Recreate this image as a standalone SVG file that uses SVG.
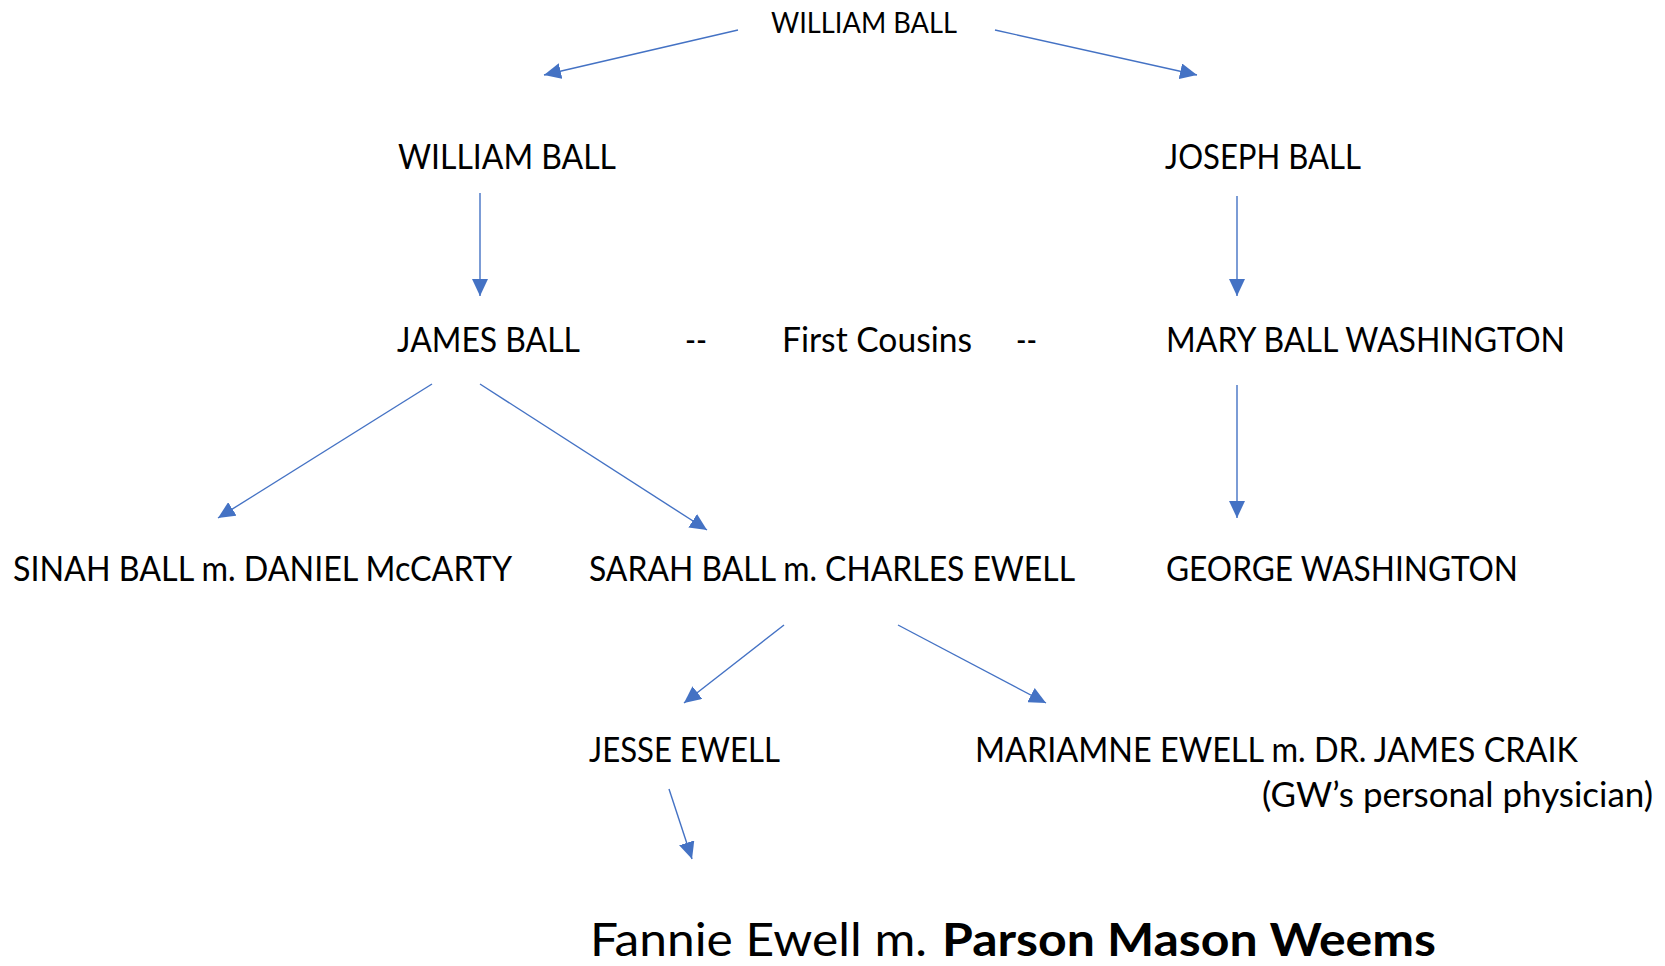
<svg xmlns="http://www.w3.org/2000/svg" width="1665" height="966" viewBox="0 0 1665 966">
<style>
text{font-family:Lato,"Open Sans","Liberation Sans",sans-serif;fill:#000;}
.t{font-size:35px;}
.s{font-size:29px;}
.b{font-size:46px;}
.bold{font-weight:bold;}
.c line{stroke:#4472C4;stroke-width:1.4;marker-end:url(#ah);}
</style>
<defs>
<marker id="ah" markerUnits="userSpaceOnUse" markerWidth="18" markerHeight="16" viewBox="0 0 18 16" refX="17" refY="8" orient="auto">
<path d="M0,0 L17,8 L0,16 z" fill="#4472C4"/>
</marker>
</defs>
<rect width="1665" height="966" fill="#fff"/>
<g id="connectors" class="c">
<line x1="738" y1="30" x2="544" y2="75"/>
<line x1="995" y1="30" x2="1197" y2="75"/>
<line x1="480" y1="193" x2="480" y2="296"/>
<line x1="1237" y1="196" x2="1237" y2="296"/>
<line x1="432" y1="384" x2="218" y2="518"/>
<line x1="480" y1="384" x2="707" y2="530"/>
<line x1="1237" y1="385" x2="1237" y2="518"/>
<line x1="784" y1="625" x2="684" y2="703"/>
<line x1="898" y1="625" x2="1046" y2="703"/>
<line x1="669" y1="789" x2="692" y2="859"/>
</g>
<g id="n-william-top"><text class="s" x="771" y="33" textLength="186" lengthAdjust="spacingAndGlyphs">WILLIAM BALL</text></g>
<g id="n-william"><text class="t" x="398" y="169" textLength="218" lengthAdjust="spacingAndGlyphs">WILLIAM BALL</text></g>
<g id="n-joseph"><text class="t" x="1165" y="169" textLength="196" lengthAdjust="spacingAndGlyphs">JOSEPH BALL</text></g>
<g id="n-james"><text class="t" x="397" y="352" textLength="183" lengthAdjust="spacingAndGlyphs">JAMES BALL</text></g>
<g id="n-cousins">
<text class="t" x="685" y="352" textLength="22" lengthAdjust="spacingAndGlyphs">--</text>
<text class="t" x="782" y="352" textLength="190" lengthAdjust="spacingAndGlyphs">First Cousins</text>
<text class="t" x="1016" y="352" textLength="21" lengthAdjust="spacingAndGlyphs">--</text>
</g>
<g id="n-mary"><text class="t" x="1166" y="352" textLength="399" lengthAdjust="spacingAndGlyphs">MARY BALL WASHINGTON</text></g>
<g id="n-sinah"><text class="t" x="13" y="581" textLength="499" lengthAdjust="spacingAndGlyphs">SINAH BALL m. DANIEL McCARTY</text></g>
<g id="n-sarah"><text class="t" x="589" y="581" textLength="486" lengthAdjust="spacingAndGlyphs">SARAH BALL m. CHARLES EWELL</text></g>
<g id="n-george"><text class="t" x="1166" y="581" textLength="352" lengthAdjust="spacingAndGlyphs">GEORGE WASHINGTON</text></g>
<g id="n-jesse"><text class="t" x="589" y="762" textLength="191" lengthAdjust="spacingAndGlyphs">JESSE EWELL</text></g>
<g id="n-mariamne">
<text class="t" x="975" y="762" textLength="603" lengthAdjust="spacingAndGlyphs">MARIAMNE EWELL m. DR. JAMES CRAIK</text>
<text class="t" x="1262" y="807" textLength="391" lengthAdjust="spacingAndGlyphs">(GW’s personal physician)</text>
</g>
<g id="n-fannie">
<text class="b" x="590" y="956" textLength="337" lengthAdjust="spacingAndGlyphs">Fannie Ewell m.</text>
<text class="b bold" x="942" y="956" textLength="494" lengthAdjust="spacingAndGlyphs">Parson Mason Weems</text>
</g>
</svg>
